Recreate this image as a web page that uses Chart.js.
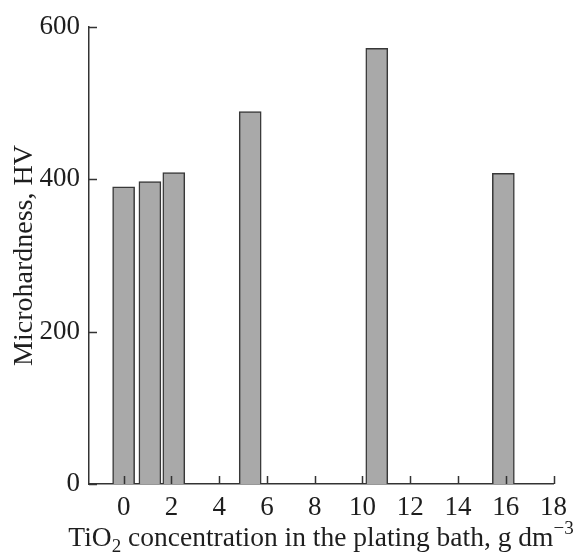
<!DOCTYPE html>
<html>
<head>
<meta charset="utf-8">
<script src="https://cdn.jsdelivr.net/npm/chart.js@4.4.1/dist/chart.umd.min.js"></script>
<style>
  html, body { margin: 0; padding: 0; background: #fff; }
  #wrap { position: relative; width: 575px; height: 553px; }
  #xTitle {
    position: absolute; left: 321px; top: 523px; transform: translateX(-50%);
    white-space: nowrap; font-family: 'Liberation Serif', 'Times New Roman', serif;
    font-size: 27.5px; line-height: 28px; color: #1e1e1e;
  }
  #xTitle .sub { font-size: 19px; position: relative; top: 6px; }
  #xTitle .sup { font-size: 19px; position: relative; top: -12px; }
</style>
</head>
<body>
<div id="wrap">
  <canvas id="hardnessChart" width="575" height="553"></canvas>
  <div id="xTitle">TiO<span class="sub">2</span> concentration in the plating bath, g dm<span class="sup">&minus;3</span></div>
</div>
<script>
// Data
const concentration = [0, 1.1, 2.1, 5.3, 10.6, 15.9];   // g dm^-3
const microhardness = [390, 397, 409, 489, 572, 408];   // HV
const xTickValues = [0, 2, 4, 6, 8, 10, 12, 14, 16, 18];
const yTickValues = [0, 200, 400, 600];

const AXIS_COLOR = '#333';
const TEXT_COLOR = '#1e1e1e';
const FONT_FAMILY = "'Liberation Serif', 'Times New Roman', serif";
const TICK_LEN = 8;

// ticks drawn inward, on top of the bars
const innerTicks = {
  id: 'innerTicks',
  afterDraw(chart) {
    const { ctx, chartArea, scales } = chart;
    ctx.save();
    ctx.strokeStyle = AXIS_COLOR;
    ctx.lineWidth = 1.5;
    ctx.beginPath();
    scales.x.ticks.forEach(t => {
      const px = Math.round(scales.x.getPixelForValue(t.value)) + 0.5;
      ctx.moveTo(px, chartArea.bottom);
      ctx.lineTo(px, chartArea.bottom - TICK_LEN);
    });
    scales.y.ticks.forEach(t => {
      const py = Math.round(scales.y.getPixelForValue(t.value)) + 0.5;
      ctx.moveTo(chartArea.left, py);
      ctx.lineTo(chartArea.left + TICK_LEN, py);
    });
    ctx.stroke();
    ctx.restore();
  }
};

const points = concentration.map((c, i) => ({ x: c, y: microhardness[i] }));

new Chart(document.getElementById('hardnessChart'), {
  type: 'bar',
  data: {
    datasets: [{
      data: points,
      backgroundColor: '#a9a9a9',
      borderColor: '#383838',
      borderWidth: 1.5,
      barThickness: 22
    }]
  },
  options: {
    responsive: false,
    animation: false,
    layout: { padding: { top: 27, right: 21, left: 0, bottom: 0 } },
    plugins: { legend: { display: false }, tooltip: { enabled: false } },
    scales: {
      x: {
        type: 'linear',
        offset: false,
        min: -1.45,
        max: 18,
        afterFit(scale) { scale.height = 69; },
        afterBuildTicks(scale) { scale.ticks = xTickValues.map(v => ({ value: v })); },
        grid: { display: false, drawTicks: false },
        border: { display: true, color: AXIS_COLOR, width: 1.5 },
        ticks: {
          padding: 8,
          color: TEXT_COLOR,
          font: { family: FONT_FAMILY, size: 27 }
        }
      },
      y: {
        min: 0,
        max: 600,
        afterFit(scale) { scale.width = 89; },
        afterBuildTicks(scale) { scale.ticks = yTickValues.map(v => ({ value: v })); },
        grid: { display: false, drawTicks: false },
        border: { display: true, color: AXIS_COLOR, width: 1.5 },
        ticks: {
          padding: 9,
          color: TEXT_COLOR,
          font: { family: FONT_FAMILY, size: 27 }
        },
        title: {
          display: true,
          text: 'Microhardness, HV',
          color: TEXT_COLOR,
          padding: { top: 8, bottom: 0 },
          font: { family: FONT_FAMILY, size: 28 }
        }
      }
    }
  },
  plugins: [innerTicks]
});
</script>
</body>
</html>
